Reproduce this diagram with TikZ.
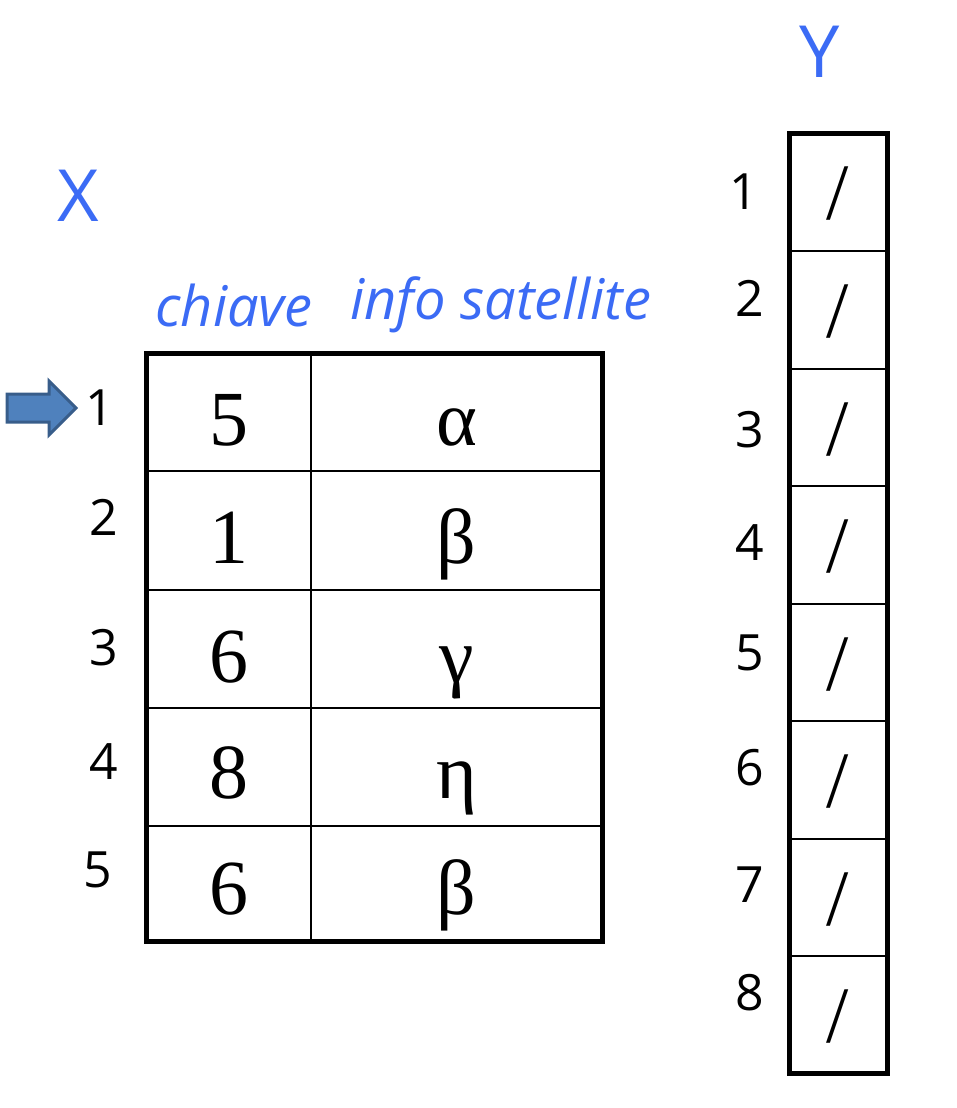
\documentclass[tikz,border=0pt]{standalone}
\usepackage{fontspec}
\setmainfont{Liberation Serif}
\setsansfont{Open Sans}
\usetikzlibrary{positioning}
\definecolor{labelblue}{RGB}{59,107,245}
\definecolor{ptrfill}{RGB}{79,129,189}
\definecolor{ptrline}{RGB}{56,93,138}
\tikzset{
  idx/.style={font=\sffamily\fontsize{50}{50}\selectfont},
  cellval/.style={font=\rmfamily\fontsize{78}{78}\selectfont,anchor=base},
  colhead/.style={font=\sffamily\itshape\fontsize{56}{56}\selectfont,text=labelblue},
  arrname/.style={font=\sffamily\fontsize{72}{72}\selectfont,text=labelblue},
}
\begin{document}
\begin{tikzpicture}[x=1pt,y=-1pt]
  \useasboundingbox (0,0) rectangle (956,1108);
  % array X
  \node[arrname] (nameX) at (78,196) {X};
  \node[colhead] (hkey) at (234,305) {chiave};
  \node[colhead] (hinfo) at (501,305) {info satellite};
  \draw[line width=2.5] (311,353)--(311,941);
  \foreach \y in {471,590,708,826}
    \draw[line width=2.5] (146,\y)--(602,\y);
  \draw[line width=5] (146,353) rectangle (602,941);
  \foreach \k/\v/\b [count=\i] in {5/α/445,1/β/563,6/γ/682,8/η/798,6/β/914}{
    \node[cellval] (key\i) at (228.5,\b) {\k};
    \node[cellval] (info\i) at (456.5,\b) {\v};
  }
  \foreach \x/\y [count=\i] in {100/408,104/517,104/648,104/762,98/870}
    \node[idx] (xi\i) at (\x,\y) {\i};
  % pointer on the first row
  \filldraw[fill=ptrfill,draw=ptrline,line width=3,line join=miter]
    (7,394)--(49,394)--(49,381)--(76,408)--(49,435)--(49,422)--(7,422)--cycle;
  % array Y
  \node[arrname] (nameY) at (820,52) {Y};
  \foreach \y in {251,369,486,604,721,839,956}
    \draw[line width=2.5] (789,\y)--(887,\y);
  \draw[line width=5] (789,133) rectangle (887,1073);
  \foreach \c [count=\i] in {192,310,427.5,545,662.5,780,897.5,1014.5}
    \node[font=\rmfamily\fontsize{80}{80}\selectfont] (slot\i) at (838,\c+2) {/};
  \foreach \x/\y [count=\i] in {744/192,750/298,750/430,750/543,750/653,750/768,750/885,750/993}
    \node[idx] (yi\i) at (\x,\y) {\i};
\end{tikzpicture}
\end{document}
